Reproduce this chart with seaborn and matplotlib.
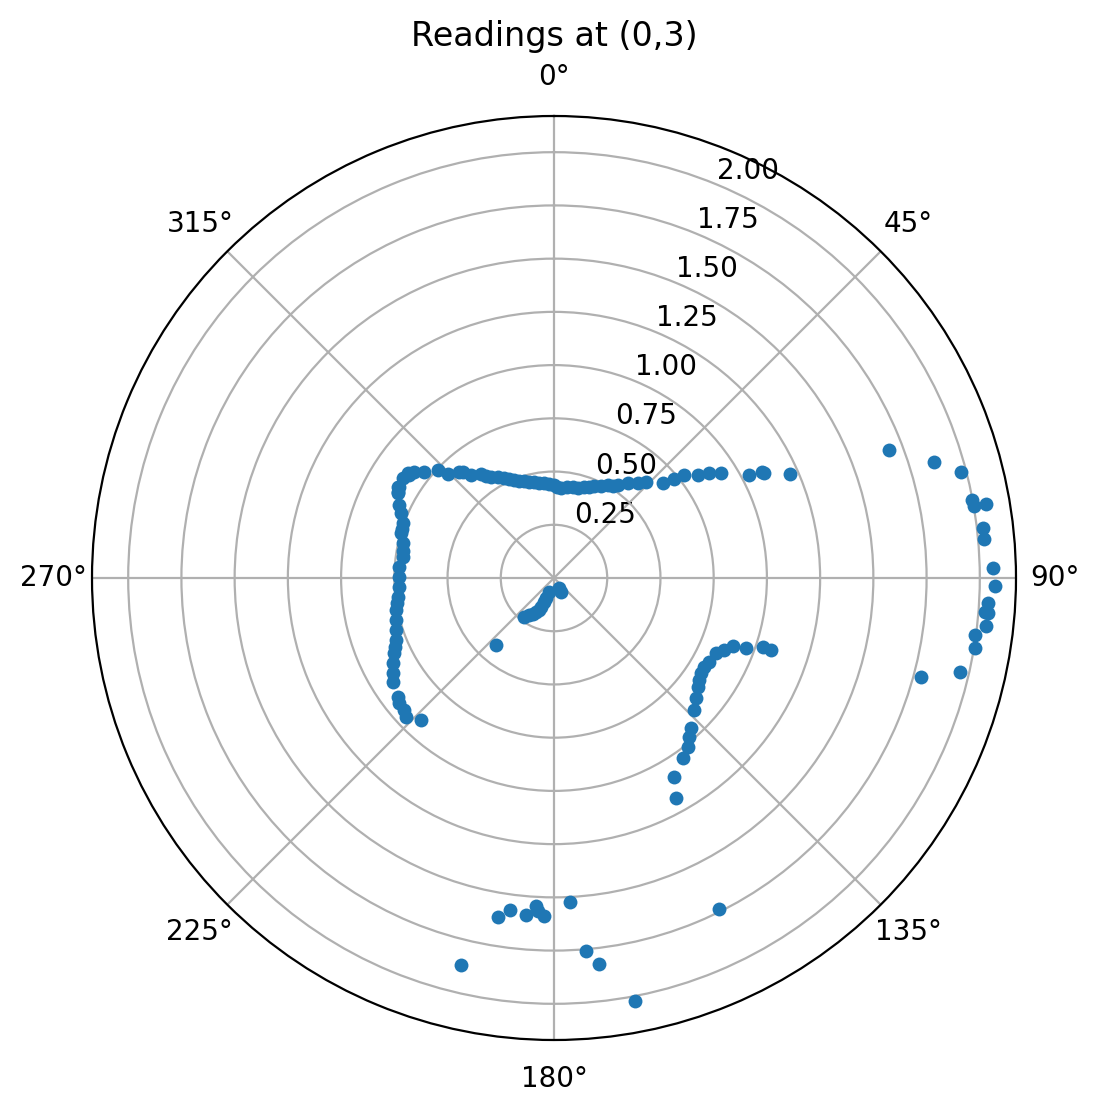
import numpy as np
import pandas as pd
import seaborn as sns
import matplotlib
matplotlib.use('Agg')
import matplotlib.pyplot as plt

# 读数: 角度 (度, 顺时针, 0 在上方) 和 距离
top_angle = [300.4, 298.9, 303.5, 305.7, 307.1, 309.2, 313.0, 314.5, 319.4, 321.1,
             324.9, 328.0, 333.4, 337.8, 342.8, 348.2, 354.0, 0.0, 4.4, 11.8,
             18.2, 23.5, 30.1, 34.5, 37.9, 41.5, 43.8, 48.9, 50.5, 51.6,
             54.4, 55.9, 57.8, 62.2, 63.0, 63.4, 66.3,
             318.0, 326.5, 331.0, 335.5, 340.0, 345.5, 351.0, 357.0, 2.0, 8.0,
             15.0, 21.0, 27.0, 32.5]
top_dist = [0.843, 0.835, 0.849, 0.843, 0.823, 0.786, 0.743, 0.696, 0.655, 0.620,
            0.596, 0.558, 0.524, 0.496, 0.476, 0.460, 0.448, 0.436, 0.423, 0.436,
            0.449, 0.470, 0.504, 0.529, 0.565, 0.594, 0.623, 0.678, 0.729, 0.778,
            0.830, 0.878, 0.925, 1.034, 1.095, 1.101, 1.213,
            0.670, 0.575, 0.540, 0.510, 0.486, 0.468, 0.454, 0.440, 0.430, 0.430,
            0.440, 0.460, 0.487, 0.515]

left_angle = [305.4, 300.3, 298.6, 295.2, 293.0, 290.0, 286.4, 283.0, 277.9, 274.1,
              270.4, 266.7, 263.1, 258.6, 255.1, 251.8, 248.6, 244.9, 242.2, 239.5,
              237.1, 232.7, 231.1, 228.7, 226.8, 223.1, 288.0, 280.0, 261.0, 246.5]
left_dist = [0.834, 0.847, 0.833, 0.803, 0.779, 0.753, 0.748, 0.727, 0.715, 0.729,
             0.727, 0.728, 0.737, 0.756, 0.766, 0.780, 0.796, 0.828, 0.854, 0.876,
             0.899, 0.920, 0.934, 0.937, 0.952, 0.912, 0.752, 0.720, 0.745, 0.815]

center_angle = [153.4, 153.4, 199.7, 201.8, 202.6, 204.1, 207.9, 214.0, 217.6, 220.9,
                206.0, 211.0]
center_dist = [0.073, 0.052, 0.070, 0.101, 0.122, 0.149, 0.180, 0.209, 0.231, 0.415,
               0.165, 0.195]

arc_angle = [108.4, 108.3, 110.0, 110.8, 112.9, 114.8, 118.5, 120.7, 122.9, 125.1,
             127.1, 130.2, 133.3, 137.6, 139.7, 141.6, 144.4, 149.0, 151.0]
arc_dist = [1.072, 1.032, 0.958, 0.898, 0.866, 0.837, 0.827, 0.818, 0.821, 0.831,
            0.847, 0.872, 0.902, 0.952, 0.978, 1.011, 1.038, 1.093, 1.179]

far_angle = [69.1, 73.1, 75.4, 79.5, 80.3, 80.3, 83.4, 84.8, 88.7, 91.0,
             93.3, 94.5, 94.6, 96.3, 97.7, 99.4, 103.0, 105.1]
far_dist = [1.686, 1.867, 1.976, 1.998, 2.002, 2.059, 2.030, 2.029, 2.063, 2.073,
            2.043, 2.031, 2.046, 2.043, 1.996, 2.006, 1.958, 1.787]

bottom_angle = [189.4, 187.5, 184.7, 183.1, 182.7, 181.7, 177.2, 175.1, 173.4, 193.5,
                169.2, 153.6]
bottom_dist = [1.615, 1.575, 1.590, 1.545, 1.568, 1.590, 1.525, 1.760, 1.827, 1.871,
               2.024, 1.738]

angles = top_angle + left_angle + center_angle + arc_angle + far_angle + bottom_angle
dists = top_dist + left_dist + center_dist + arc_dist + far_dist + bottom_dist
df = pd.DataFrame({'theta': np.deg2rad(angles), 'r': dists})

fig = plt.figure(figsize=(1099 / 200, 1112 / 200), dpi=200)
ax = fig.add_axes([92 / 1099, 72 / 1112, 924 / 1099, 924 / 1112], projection='polar')
ax.set_theta_zero_location('N')
ax.set_theta_direction(-1)

sns.scatterplot(data=df, x='theta', y='r', ax=ax, s=25, color='#1f77b4',
                linewidth=0, zorder=3)
ax.set_xlabel('')
ax.set_ylabel('')
ax.set_ylim(0, 2.17)
ax.set_yticks([0.25, 0.5, 0.75, 1.0, 1.25, 1.5, 1.75, 2.0])
ax.grid(True)
ax.set_title('Readings at (0,3)')

plt.savefig('out.png', dpi=200)
